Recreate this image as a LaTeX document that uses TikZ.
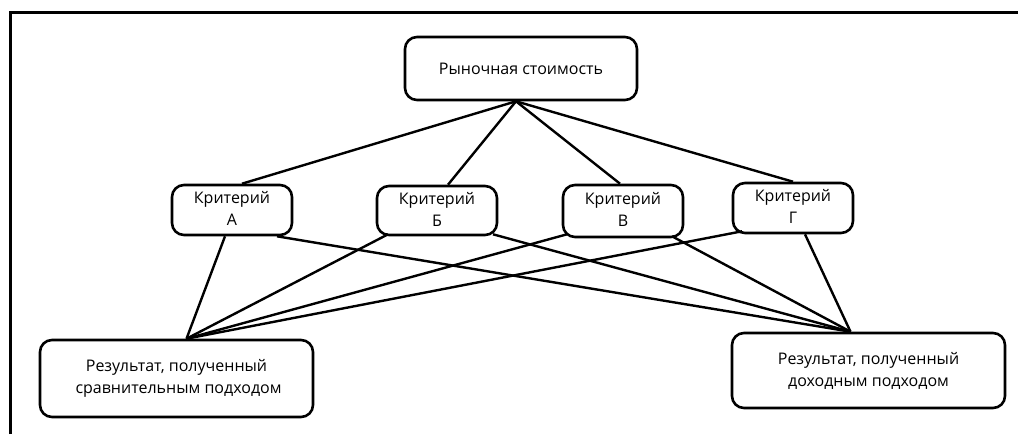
\documentclass[tikz,border=0pt]{standalone}
\usepackage{fontspec}
\setmainfont{Open Sans}
\begin{document}
\begin{tikzpicture}[x=1pt,y=-1pt,
  box/.style={draw, line width=2.6pt, rounded corners=12pt, align=center, inner sep=0pt,
    font=\fontsize{16}{22}\selectfont},
  link/.style={line width=2.4pt}]
\useasboundingbox (0,0) rectangle (1018,434);
\draw[line width=3pt] (10,434) -- (10,12) -- (1018,12);
\node[box, minimum width=232pt, minimum height=63pt] (top) at (521,68.5) {Рыночная стоимость};
\node[box, minimum width=120pt, minimum height=50pt, text depth=3pt] (A) at (232,210) {Критерий\\А};
\node[box, minimum width=120pt, minimum height=49pt, text depth=3pt] (B) at (437,210.5) {Критерий\\Б};
\node[box, minimum width=120pt, minimum height=52pt, text depth=3pt] (V) at (623,211) {Критерий\\В};
\node[box, minimum width=120pt, minimum height=50pt, text depth=3pt] (G) at (793,208) {Критерий\\Г};
\node[box, minimum width=273pt, minimum height=77pt] (L) at (176.5,378.5) {Результат, полученный\\\ сравнительным подходом};
\node[box, minimum width=273pt, minimum height=75pt] (R) at (868.5,370.5) {Результат, полученный\\доходным подходом};
\coordinate (apT) at ([xshift=-5pt]top.south);
\coordinate (apL) at ([xshift=10pt]L.north);
\coordinate (apR) at ([xshift=-18pt]R.north);
\draw[link] (apT) -- ([xshift=10pt]A.north);
\draw[link] (apT) -- ([xshift=11pt]B.north);
\draw[link] (apT) -- ([xshift=-3pt]V.north);
\draw[link] (apT) -- (G.north);
\draw[link] ([xshift=-7pt]A.south) -- (apL);
\draw[link] ([xshift=45pt]A.south) -- (apR);
\draw[link] ([xshift=-49pt,yshift=2pt]B.south) -- (apL);
\draw[link] ([xshift=56pt,yshift=2pt]B.south) -- (apR);
\draw[link] ([xshift=-56pt,yshift=4pt]V.south) -- (apL);
\draw[link] ([xshift=49pt,yshift=2pt]V.south) -- (apR);
\draw[link] ([xshift=-51pt,yshift=3pt]G.south) -- (apL);
\draw[link] ([xshift=12pt]G.south) -- (apR);
\end{tikzpicture}
\end{document}
